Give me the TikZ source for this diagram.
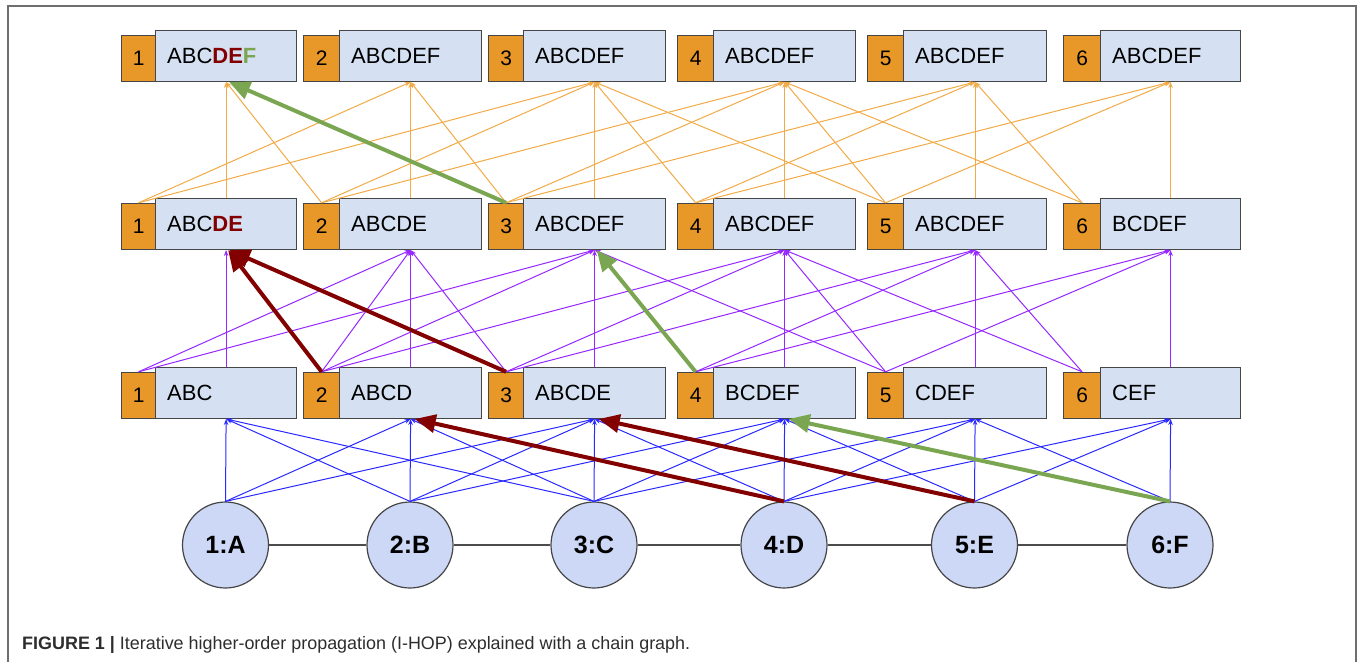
\documentclass[tikz,border=0pt]{standalone}
\usepackage{fontspec}
\setmainfont{Liberation Sans}
\usepackage{graphicx}
\usetikzlibrary{arrows.meta}
\definecolor{boxfill}{RGB}{213,225,242}
\definecolor{numfill}{RGB}{232,152,40}
\definecolor{circfill}{RGB}{204,216,245}
\definecolor{edgeblue}{RGB}{40,40,255}
\definecolor{edgepurple}{RGB}{150,40,255}
\definecolor{edgeorange}{RGB}{242,170,70}
\definecolor{hotred}{RGB}{130,0,0}
\definecolor{hotgreen}{RGB}{122,166,82}
\definecolor{framegray}{RGB}{110,110,110}
\definecolor{boxline}{RGB}{70,70,70}
\definecolor{captext}{RGB}{45,45,45}
\begin{document}
\begin{tikzpicture}[x=1pt,y=-1pt,
  numbox/.style={draw=boxline, line width=1.2pt, fill=numfill, minimum height=46pt, inner sep=0pt,
    font=\fontsize{21}{24}\selectfont},
  txtbox/.style={draw=boxline, line width=1.2pt, fill=boxfill, minimum height=51pt, inner sep=0pt},
  lbl/.style={inner sep=0pt, anchor=west, font=\fontsize{22}{24}\selectfont},
  circ/.style={circle, draw=boxline, line width=1.2pt, fill=circfill, minimum size=86pt, inner sep=0pt,
    font=\fontsize{25}{27}\selectfont\bfseries},
  chainedge/.style={draw=black!70, line width=1.2pt},
  thinedge/.style={line width=1pt, -{Stealth[length=6pt,width=4.5pt]}},
  hotarrow/.style={line width=4pt, -{Triangle[length=21pt,width=18pt]}},
]
\useasboundingbox (0,0) rectangle (1360,662);
\draw[framegray, line width=1.3pt] (8,662) -- (8,6) -- (1356,6) -- (1356,662);

% boxes
\foreach \i/\ol/\bl/\br in {1/121/155/296,2/303/339/481,3/488/523/665,4/677/713/855,5/867/903/1046,6/1063/1100/1240}{
  \foreach \L/\yb in {T/82,M/250,B/419}{
    \pgfmathsetmacro\ow{\bl-\ol}
    \pgfmathsetmacro\bw{\br-\bl}
    \node[numbox, minimum width=\ow pt, anchor=south west] (\L n\i) at (\ol,\yb) {\i};
    \node[txtbox, minimum width=\bw pt, anchor=south west] (\L b\i) at (\bl,\yb) {};
  }
}
% labels
\foreach \L/\i/\t in {
  T/1/{ABC\textcolor{hotred}{\bfseries DE}\textcolor{hotgreen}{\bfseries F}},
  T/2/ABCDEF, T/3/ABCDEF, T/4/ABCDEF, T/5/ABCDEF, T/6/ABCDEF,
  M/1/{ABC\textcolor{hotred}{\bfseries DE}},
  M/2/ABCDE, M/3/ABCDEF, M/4/ABCDEF, M/5/ABCDEF, M/6/BCDEF,
  B/1/ABC, B/2/ABCD, B/3/ABCDE, B/4/BCDEF, B/5/CDEF, B/6/CEF}{
  \node[lbl] (\L t\i) at ([xshift=12pt]\L b\i.west) {\t};
}

% circles
\foreach \i/\n/\x in {1/A/225.5,2/B/410,3/C/594,4/D/784,5/E/974.5,6/F/1170}{
  \node[circ] (c\i) at (\x,545) {\i:\n};
}
\foreach \i/\j in {1/2,2/3,3/4,4/5,5/6}{
  \draw[chainedge] (c\i) -- (c\j);
}

% bottom layer: circles -> B boxes
\foreach \i/\j in {1/1,1/2,1/3,2/1,2/2,2/3,2/4,3/1,3/2,3/3,3/4,3/5,4/3,4/4,4/5,4/6,5/4,5/5,5/6,6/5,6/6}{
  \draw[thinedge, edgeblue] (c\i.north) -- (Bb\j.south);
}
% middle layer: B -> M
\foreach \i/\j in {1/2,1/3,2/2,2/3,2/4,3/2,3/4,3/5,4/5,4/6,5/3,5/4,5/6,6/4,6/5}{
  \draw[thinedge, edgepurple] (Bn\i.north) -- (Mb\j.south);
}
\foreach \i in {1,...,6}{
  \draw[thinedge, edgepurple] (Bb\i.north) -- (Mb\i.south);
}
% top layer: M -> T
\foreach \i/\j in {1/2,1/3,2/1,2/3,2/4,3/2,3/4,3/5,4/3,4/5,4/6,5/3,5/4,5/6,6/4,6/5}{
  \draw[thinedge, edgeorange] (Mn\i.north) -- (Tb\j.south);
}
\foreach \i in {1,...,6}{
  \draw[thinedge, edgeorange] (Mb\i.north) -- (Tb\i.south);
}

% highlighted propagation
\draw[hotarrow, hotred] (c4.north) -- ([xshift=4pt]Bb2.south);
\draw[hotarrow, hotred] (c5.north) -- ([xshift=4pt]Bb3.south);
\draw[hotarrow, hotgreen] (c6.north) -- ([xshift=4pt]Bb4.south);
\draw[hotarrow, hotred] (Bn2.north) -- ([xshift=2pt]Mb1.south);
\draw[hotarrow, hotred] (Bn3.north) -- ([xshift=3pt]Mb1.south);
\draw[hotarrow, hotgreen] (Bn4.north) -- ([xshift=2pt]Mb3.south);
\draw[hotarrow, hotgreen] (Mn3.north) -- ([xshift=3pt]Tb1.south);

% caption
\node[anchor=base west, inner sep=0pt, text=captext] (cap) at (22,649)
  {\resizebox{668pt}{\height}{\fontsize{18}{20}\selectfont\textbf{FIGURE 1 |} Iterative higher-order propagation (I-HOP) explained with a chain graph.}};
\end{tikzpicture}
\end{document}
